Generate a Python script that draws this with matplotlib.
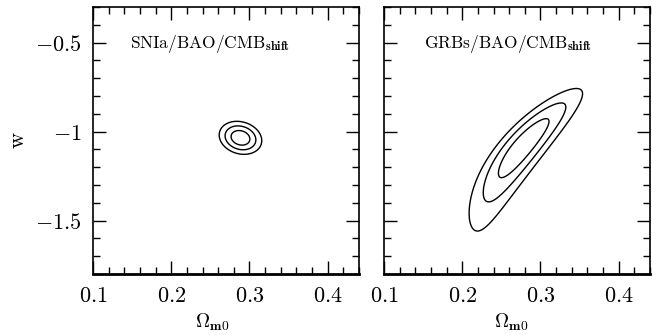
import numpy as np
import matplotlib
matplotlib.use("Agg")
import matplotlib.pyplot as plt
from matplotlib.ticker import MultipleLocator, FixedLocator, FixedFormatter

plt.rcParams['mathtext.fontset'] = 'cm'
plt.rcParams['font.family'] = ['DejaVu Serif']

# ---- data ----
panel_titles = [r'$\mathrm{SNIa/BAO/CMB}_{\mathbf{shift}}$',
                r'$\mathrm{GRBs/BAO/CMB}_{\mathbf{shift}}$']
# delta chi^2 levels for 1,2,3 sigma (2 parameters)
delta_chi2_levels = [2.30, 6.17, 11.8]
# likelihood shape parameters per panel: best fit (Om, w), widths, ridge slope/curvature, skew
best_om = [0.2885, 0.278]
best_w = [-1.035, -1.08]
sigma_om = [0.0078, 0.0100]
sigma_w = [0.027, 0.108]
ridge_slope = [-0.05, 0.175]
ridge_curv = [0.0, 0.11]
w_skew = [0.0, 0.47]

x_ticks = [0.1, 0.2, 0.3, 0.4]
x_ticklabels = ['$0.1$', '$0.2$', '$0.3$', '$0.4$']
y_ticks = [-1.5, -1.0, -0.5]
y_ticklabels = ['$-1.5$', '$-1$', '$-0.5$']
xlim = (0.1, 0.44)
ylim = (-1.8, -0.3)

fig = plt.figure(figsize=(6.52, 3.35), dpi=100)
ax_l = fig.add_axes([93/652, 61/335, 266/652, 267/335])
ax_r = fig.add_axes([384/652, 61/335, 266/652, 267/335])

om = np.linspace(xlim[0], xlim[1], 400)
ww = np.linspace(ylim[0], ylim[1], 400)
OM, W = np.meshgrid(om, ww)

for i, ax in enumerate([ax_l, ax_r]):
    d = W - best_w[i]
    ridge = best_om[i] + ridge_slope[i] * d + ridge_curv[i] * d**2
    s = (OM - ridge) / sigma_om[i]
    t = (d + w_skew[i] * d**2) / sigma_w[i]
    chi2 = s**2 + t**2
    ax.contour(OM, W, chi2, levels=delta_chi2_levels, colors='black', linewidths=1.0)

    ax.set_xlim(*xlim)
    ax.set_ylim(*ylim)
    ax.xaxis.set_major_locator(FixedLocator(x_ticks))
    ax.xaxis.set_major_formatter(FixedFormatter(x_ticklabels))
    ax.xaxis.set_minor_locator(MultipleLocator(0.02))
    ax.yaxis.set_major_locator(FixedLocator(y_ticks))
    ax.yaxis.set_minor_locator(MultipleLocator(0.1))
    if i == 0:
        ax.yaxis.set_major_formatter(FixedFormatter(y_ticklabels))
    else:
        ax.yaxis.set_major_formatter(FixedFormatter(['', '', '']))
    ax.tick_params(which='both', direction='in', top=True, right=True, width=1.0, colors='black')
    ax.tick_params(which='major', length=9.5, labelsize=16, pad=8)
    ax.tick_params(which='minor', length=5)
    for side in ['top', 'left', 'right']:
        ax.spines[side].set_linewidth(1.2)
    ax.spines['bottom'].set_linewidth(2.0)
    ax.text(0.14 if i == 0 else 0.15, 0.86, panel_titles[i], transform=ax.transAxes,
            fontsize=12.5, ha='left', va='center')

ax_l.set_xlabel(r'$\Omega_{\mathbf{m0}}$', fontsize=14)
ax_r.set_xlabel(r'$\Omega_{\mathbf{m0}}$', fontsize=14)
ax_l.xaxis.set_label_coords(0.45, -0.14)
ax_r.xaxis.set_label_coords(0.48, -0.14)
ax_l.set_ylabel(r'$\mathrm{w}$', fontsize=16)
ax_l.yaxis.set_label_coords(-0.24, 0.5)

fig.savefig('out.png', dpi=100)
